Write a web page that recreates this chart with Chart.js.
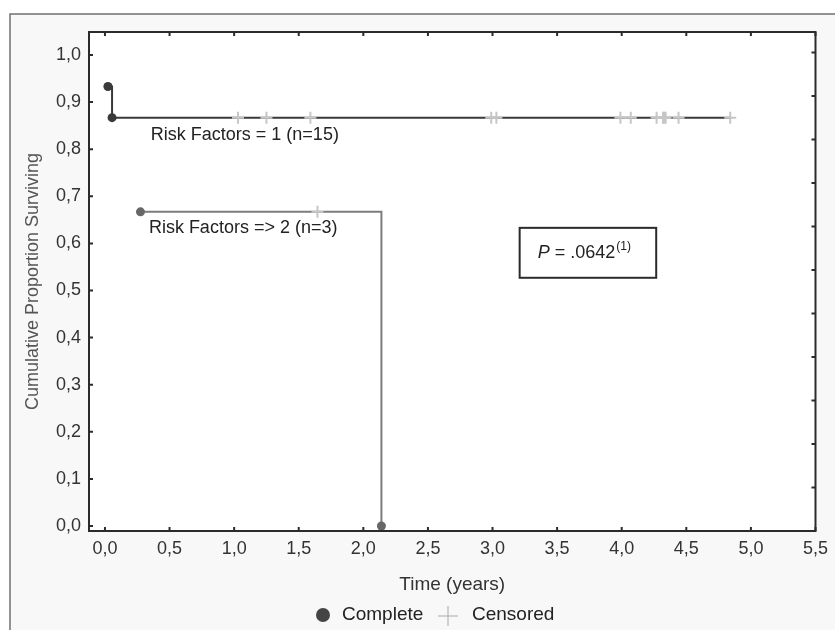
<!DOCTYPE html>
<html><head><meta charset="utf-8">
<script src="https://cdn.jsdelivr.net/npm/chart.js@4.4.1/dist/chart.umd.min.js"></script>
<style>html,body{margin:0;padding:0;background:#fff;}canvas{display:block}</style>
</head><body>
<canvas id="c" width="835" height="630"></canvas>
<script>
// ---- data ----
const xTicks = [0, 0.5, 1, 1.5, 2, 2.5, 3, 3.5, 4, 4.5, 5, 5.5];
const yTicks = [0, 0.1, 0.2, 0.3, 0.4, 0.5, 0.6, 0.7, 0.8, 0.9, 1.0];
const rightTickMarks = [0, 1, 2, 3, 4, 5, 6, 7, 8, 9, 10, 11];
const seriesNames = ["Risk Factors = 1 (n=15)", "Risk Factors => 2 (n=3)"];
const g1Time = [0.023, 0.055, 4.84];
const g1Surv = [0.933, 0.867, 0.867];
const g1Complete = [true, true, false];
const g1CensTime = [1.03, 1.25, 1.59, 2.99, 3.03, 3.99, 4.07, 4.27, 4.32, 4.33, 4.34, 4.44, 4.84];
const g1CensSurv = [0.867, 0.867, 0.867, 0.867, 0.867, 0.867, 0.867, 0.867, 0.867, 0.867, 0.867, 0.867, 0.867];
const g2Time = [0.275, 2.14];
const g2Surv = [0.667, 0];
const g2Complete = [true, true];
const g2CensTime = [1.645];
const g2CensSurv = [0.667];
const pValueText = ".0642";
const legendItems = ["Complete", "Censored"];

const FONT = "'Liberation Sans', Arial, sans-serif";
const fmt = v => Number(v).toFixed(1).replace('.', ',');
const toPts = (xs, ys) => xs.map((x, i) => ({x: x, y: ys[i]}));

const framePlugin = {
  id: 'frame',
  beforeDraw(chart) {
    const c = chart.ctx, a = chart.chartArea;
    c.save();
    c.fillStyle = '#ffffff';
    c.fillRect(0, 0, chart.width, chart.height);
    c.fillStyle = '#f8f8f8';
    c.fillRect(10, 14, chart.width - 10, chart.height - 14);
    c.strokeStyle = '#707070';
    c.lineWidth = 1.5;
    c.beginPath();
    c.moveTo(10, chart.height); c.lineTo(10, 14); c.lineTo(chart.width, 14);
    c.stroke();
    c.fillStyle = '#ffffff';
    c.fillRect(a.left, a.top, a.right - a.left, a.bottom - a.top);
    c.restore();
  },
  afterDraw(chart) {
    const c = chart.ctx, a = chart.chartArea, s = chart.scales;
    c.save();
    // plot box
    c.strokeStyle = '#2b2b2b';
    c.lineWidth = 2;
    c.strokeRect(a.left, a.top, a.right - a.left, a.bottom - a.top);
    // inward tick marks
    c.lineWidth = 2;
    c.beginPath();
    s.y.ticks.forEach(t => { const p = s.y.getPixelForValue(t.value); c.moveTo(a.left, p); c.lineTo(a.left + 4, p); });
    s.y2.ticks.forEach(t => { const p = s.y2.getPixelForValue(t.value); c.moveTo(a.right, p); c.lineTo(a.right - 4, p); });
    s.x.ticks.forEach(t => { const p = s.x.getPixelForValue(t.value); c.moveTo(p, a.bottom); c.lineTo(p, a.bottom - 4); });
    s.x2.ticks.forEach(t => { const p = s.x2.getPixelForValue(t.value); c.moveTo(p, a.top); c.lineTo(p, a.top + 4); });
    c.stroke();
    // series labels
    c.fillStyle = '#222';
    c.font = '18px ' + FONT;
    c.textBaseline = 'middle';
    c.textAlign = 'left';
    c.fillText(seriesNames[0], s.x.getPixelForValue(0.355), s.y.getPixelForValue(0.83));
    c.fillText(seriesNames[1], s.x.getPixelForValue(0.34), s.y.getPixelForValue(0.633));
    // p-value box
    const bx1 = s.x.getPixelForValue(3.21), bx2 = s.x.getPixelForValue(4.267);
    const by1 = s.y.getPixelForValue(0.633), by2 = s.y.getPixelForValue(0.527);
    c.fillStyle = '#fff';
    c.fillRect(bx1, by1, bx2 - bx1, by2 - by1);
    c.strokeStyle = '#2b2b2b';
    c.lineWidth = 2;
    c.strokeRect(bx1, by1, bx2 - bx1, by2 - by1);
    const cy = (by1 + by2) / 2;
    let tx = bx1 + 18;
    c.fillStyle = '#222';
    c.font = 'italic 18px ' + FONT;
    c.fillText('P', tx, cy);
    tx += c.measureText('P').width;
    c.font = '18px ' + FONT;
    const mid = ' = ' + pValueText;
    c.fillText(mid, tx, cy);
    tx += c.measureText(mid).width + 1;
    c.font = '12px ' + FONT;
    c.fillText('(1)', tx, cy - 6);
    // legend
    const ly = 615;
    c.fillStyle = '#444';
    c.beginPath(); c.arc(323, ly, 7, 0, Math.PI * 2); c.fill();
    c.fillStyle = '#222';
    c.font = '19px ' + FONT;
    c.fillText(legendItems[0], 342, ly);
    c.strokeStyle = '#a8a8a8';
    c.lineWidth = 1;
    c.beginPath();
    c.moveTo(438, ly + 1); c.lineTo(458, ly + 1);
    c.moveTo(448, ly - 9); c.lineTo(448, ly + 11);
    c.stroke();
    c.fillText(legendItems[1], 472, ly);
    c.restore();
  }
};

const xRange = {min: -0.1235, max: 5.5};
const tickFont = {family: FONT, size: 18};

new Chart(document.getElementById('c'), {
  type: 'line',
  data: {
    datasets: [
      {label: 'Censored 1', type: 'scatter', data: toPts(g1CensTime, g1CensSurv), xAxisID: 'x', yAxisID: 'y',
       pointStyle: 'cross', pointRadius: 6, borderColor: '#c6c6c6', backgroundColor: '#c6c6c6', borderWidth: 2, showLine: false, order: 0},
      {label: 'Censored 2', type: 'scatter', data: toPts(g2CensTime, g2CensSurv), xAxisID: 'x', yAxisID: 'y',
       pointStyle: 'cross', pointRadius: 6, borderColor: '#c6c6c6', backgroundColor: '#c6c6c6', borderWidth: 2, showLine: false, order: 0},
      {label: seriesNames[0], data: toPts(g1Time, g1Surv), xAxisID: 'x', yAxisID: 'y', stepped: 'before',
       borderColor: '#3a3a3a', borderWidth: 2, fill: false,
       pointRadius: g1Complete.map(b => b ? 4.5 : 0), pointBackgroundColor: '#3a3a3a', pointBorderWidth: 0, order: 1},
      {label: seriesNames[1], data: toPts(g2Time, g2Surv), xAxisID: 'x', yAxisID: 'y', stepped: 'before',
       borderColor: '#7c7c7c', borderWidth: 2, fill: false,
       pointRadius: g2Complete.map(b => b ? 4.5 : 0), pointBackgroundColor: '#676767', pointBorderWidth: 0, order: 1}
    ]
  },
  options: {
    responsive: false,
    animation: false,
    devicePixelRatio: 1,
    layout: {padding: {left: 0, top: 32, right: 17, bottom: 0}},
    plugins: {legend: {display: false}, tooltip: {enabled: false}},
    scales: {
      x: {type: 'linear', position: 'bottom', min: xRange.min, max: xRange.max,
          afterBuildTicks: s => { s.ticks = xTicks.map(v => ({value: v})); },
          ticks: {callback: v => fmt(v), font: tickFont, color: '#333', padding: 7, maxRotation: 0, autoSkip: false},
          grid: {display: false, drawTicks: false}, border: {display: false},
          title: {display: true, text: 'Time (years)', font: {family: FONT, size: 19}, color: '#333', padding: {top: 0, bottom: 34}},
          afterFit: s => { s.height = 99; }},
      x2: {type: 'linear', position: 'top', min: xRange.min, max: xRange.max,
          afterBuildTicks: s => { s.ticks = xTicks.map(v => ({value: v})); },
          ticks: {display: false}, grid: {display: false, drawTicks: false}, border: {display: false},
          afterFit: s => { s.height = 0; }},
      y: {type: 'linear', position: 'left', min: -0.0106, max: 1.0488,
          afterBuildTicks: s => { s.ticks = yTicks.map(v => ({value: v})); },
          ticks: {callback: v => fmt(v), font: tickFont, color: '#333', padding: 8},
          grid: {display: false, drawTicks: false}, border: {display: false},
          title: {display: true, text: 'Cumulative Proportion Surviving', font: {family: FONT, size: 18}, color: '#555', padding: {top: 22, bottom: 0}},
          afterFit: s => { s.width = 89; }},
      y2: {type: 'linear', position: 'right', min: 0, max: 11.47,
          afterBuildTicks: s => { s.ticks = rightTickMarks.map(v => ({value: v})); },
          ticks: {display: false}, grid: {display: false, drawTicks: false}, border: {display: false},
          afterFit: s => { s.width = 0; }}
    }
  },
  plugins: [framePlugin]
});
</script>
</body></html>
